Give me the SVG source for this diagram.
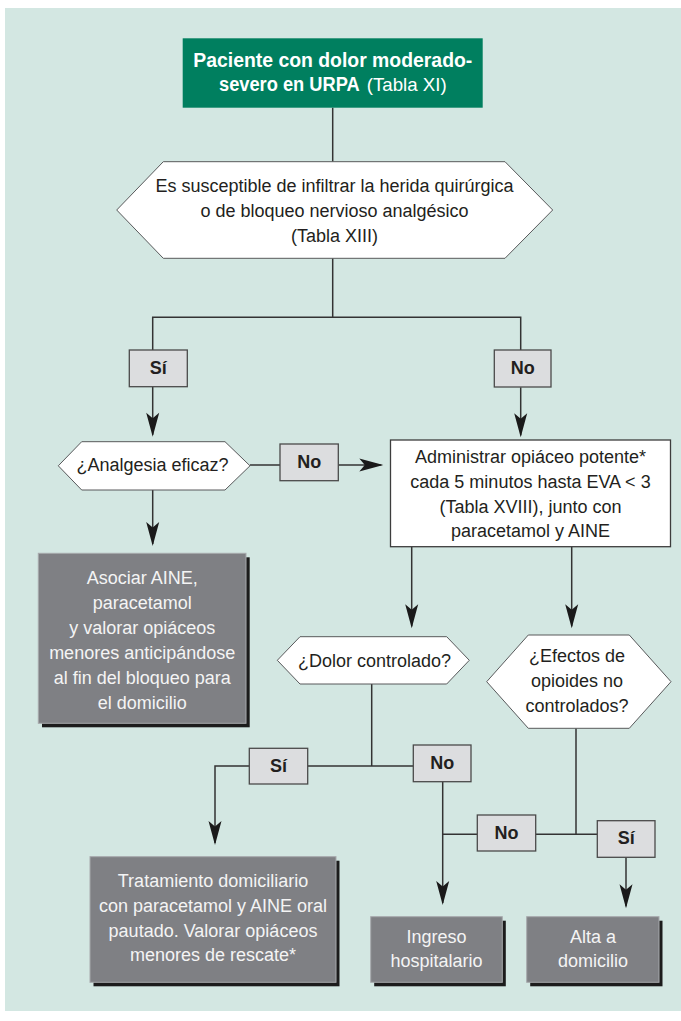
<svg xmlns="http://www.w3.org/2000/svg" width="681" height="1021" viewBox="0 0 681 1021">
  <style>
    .bg { fill: #d3e7e2; }
    .start { fill: #007f5f; }
    .hex { fill: #ffffff; stroke: #58595b; stroke-width: 1; }
    .plain { fill: #ffffff; stroke: #3d3d3d; stroke-width: 1.3; }
    .tag { fill: #dcdddf; stroke: #4a4a4a; stroke-width: 1.3; }
    .dark { fill: #7f8084; stroke: #a7a9ac; stroke-width: 1; }
    .shadow { fill: #1c1c1c; }
    .wire { fill: none; stroke: #333333; stroke-width: 1.5; }
    .t { font-family: "Liberation Sans", Arial, sans-serif; font-size: 18px; fill: #231f20; text-anchor: middle; }
    .tb { font-family: "Liberation Sans", Arial, sans-serif; font-size: 18px; font-weight: bold; fill: #231f20; text-anchor: middle; }
    .tw { font-family: "Liberation Sans", Arial, sans-serif; font-size: 18px; fill: #f4f4f4; text-anchor: middle; }
    .hb { font-family: "Liberation Sans", Arial, sans-serif; font-size: 19.4px; font-weight: bold; fill: #ffffff; }
    .hr { font-family: "Liberation Sans", Arial, sans-serif; font-size: 19px; fill: #ffffff; }
  </style>
  <defs>
    <marker id="arrow" markerUnits="userSpaceOnUse" markerWidth="26" markerHeight="16" viewBox="-25 -8 26 16" refX="-2" refY="0" orient="auto">
      <path d="M0,0 L-24,-6.5 L-18.5,0 L-24,6.5 Z" fill="#1a1a1a"/>
    </marker>
  </defs>

  <!-- panel background -->
  <rect class="bg" x="5" y="8" width="676" height="1003"/>

  <!-- connectors -->
  <g id="connectors">
    <path class="wire" d="M332.7,107.7 V161.7"/>
    <path class="wire" d="M332.7,258.3 V317.3 M152.7,350 V317.3 H520.7 V350"/>
    <path class="wire" d="M152.7,386.7 V434.7" marker-end="url(#arrow)"/>
    <path class="wire" d="M520.7,387.3 V435.3" marker-end="url(#arrow)"/>
    <path class="wire" d="M250,465 H280"/>
    <path class="wire" d="M338.3,465 H381.3" marker-end="url(#arrow)"/>
    <path class="wire" d="M152.7,490 V544" marker-end="url(#arrow)"/>
    <path class="wire" d="M411.7,546.7 V626.3" marker-end="url(#arrow)"/>
    <path class="wire" d="M571.7,546.7 V626.3" marker-end="url(#arrow)"/>
    <path class="wire" d="M371.7,684 V766"/>
    <path class="wire" d="M249.3,766 H215 V843" marker-end="url(#arrow)"/>
    <path class="wire" d="M307.7,766 H413.3"/>
    <path class="wire" d="M442.7,781.7 V903" marker-end="url(#arrow)"/>
    <path class="wire" d="M442.7,834.3 H477.3"/>
    <path class="wire" d="M535.7,834.3 H597.3"/>
    <path class="wire" d="M576,728.3 V834.3"/>
    <path class="wire" d="M626,857.3 V906.3" marker-end="url(#arrow)"/>
  </g>

  <!-- start -->
  <g id="n-start">
    <rect class="start" x="182.7" y="38.3" width="300" height="69.4"/>
    <text class="hb" x="193.3" y="66.7" textLength="279" lengthAdjust="spacingAndGlyphs">Paciente con dolor moderado-</text>
    <text class="hb" x="219" y="91" textLength="140.7" lengthAdjust="spacingAndGlyphs">severo en URPA</text>
    <text class="hr" x="366.7" y="91" textLength="80" lengthAdjust="spacingAndGlyphs">(Tabla XI)</text>
  </g>

  <!-- decision: infiltration / block -->
  <g id="n-infiltrar">
    <polygon class="hex" points="163.3,161.7 505,161.7 552.7,210 505,258.3 163.3,258.3 116.7,210"/>
    <text class="t" x="334.5" y="192.3">Es susceptible de infiltrar la herida quirúrgica</text>
    <text class="t" x="334.5" y="217.3">o de bloqueo nervioso analgésico</text>
    <text class="t" x="334.5" y="241.7">(Tabla XIII)</text>
  </g>

  <g id="l-si-1">
    <rect class="tag" x="129.3" y="350" width="58" height="36.7"/>
    <text class="tb" x="158.3" y="374">Sí</text>
  </g>
  <g id="l-no-1">
    <rect class="tag" x="494.3" y="350" width="56.7" height="37"/>
    <text class="tb" x="522.7" y="374">No</text>
  </g>

  <!-- decision: effective analgesia -->
  <g id="n-analgesia">
    <polygon class="hex" points="81.7,441.7 225,441.7 250,465.8 225,490 81.7,490 58.3,465.8"/>
    <text class="t" x="152.5" y="470.5">¿Analgesia eficaz?</text>
  </g>
  <g id="l-no-2">
    <rect class="tag" x="280" y="444" width="58.3" height="36.7"/>
    <text class="tb" x="309.2" y="468">No</text>
  </g>

  <!-- potent opioid -->
  <g id="n-opiaceo">
    <rect class="plain" x="390.5" y="440" width="280" height="106.7"/>
    <text class="t" x="530.5" y="462.7">Administrar opiáceo potente*</text>
    <text class="t" x="530.5" y="488.3">cada 5 minutos hasta EVA &lt; 3</text>
    <text class="t" x="530.5" y="513.3">(Tabla XVIII), junto con</text>
    <text class="t" x="530.5" y="537.3">paracetamol y AINE</text>
  </g>

  <!-- result: associate NSAID -->
  <g id="n-asociar">
    <rect class="shadow" x="42" y="557.3" width="207.7" height="170"/>
    <rect class="dark" x="38.3" y="553.3" width="207.7" height="170"/>
    <text class="tw" x="142.2" y="584">Asociar AINE,</text>
    <text class="tw" x="142.2" y="608.5">paracetamol</text>
    <text class="tw" x="142.2" y="633.5">y valorar opiáceos</text>
    <text class="tw" x="142.2" y="658.5">menores anticipándose</text>
    <text class="tw" x="142.2" y="683.5">al fin del bloqueo para</text>
    <text class="tw" x="142.2" y="708.5">el domicilio</text>
  </g>

  <!-- decision: pain controlled -->
  <g id="n-dolor">
    <polygon class="hex" points="300,636.7 446.7,636.7 469.3,660.3 446.7,684 300,684 277.3,660.3"/>
    <text class="t" x="374.5" y="667">¿Dolor controlado?</text>
  </g>

  <!-- decision: opioid side effects -->
  <g id="n-efectos">
    <polygon class="hex" points="528.3,635 629.3,635 671,681.7 629.3,728.3 528.3,728.3 486.7,681.7"/>
    <text class="t" x="577" y="661.7">¿Efectos de</text>
    <text class="t" x="577" y="686.7">opioides no</text>
    <text class="t" x="577" y="711.7">controlados?</text>
  </g>

  <g id="l-si-2">
    <rect class="tag" x="249.3" y="748.3" width="58.4" height="35.7"/>
    <text class="tb" x="278.5" y="771.5">Sí</text>
  </g>
  <g id="l-no-3">
    <rect class="tag" x="413.3" y="745" width="57.7" height="36.7"/>
    <text class="tb" x="442.2" y="769">No</text>
  </g>
  <g id="l-no-4">
    <rect class="tag" x="477.3" y="815" width="58.4" height="36"/>
    <text class="tb" x="506.5" y="838.5">No</text>
  </g>
  <g id="l-si-3">
    <rect class="tag" x="597.3" y="820.7" width="57.7" height="36.6"/>
    <text class="tb" x="626.2" y="844">Sí</text>
  </g>

  <!-- result: home treatment -->
  <g id="n-tratamiento">
    <rect class="shadow" x="93.5" y="860.7" width="246" height="125.6"/>
    <rect class="dark" x="90" y="856.7" width="246" height="125.6"/>
    <text class="tw" x="213" y="887.3">Tratamiento domiciliario</text>
    <text class="tw" x="213" y="912">con paracetamol y AINE oral</text>
    <text class="tw" x="213" y="936.5">pautado. Valorar opiáceos</text>
    <text class="tw" x="213" y="961">menores de rescate*</text>
  </g>

  <!-- result: admission -->
  <g id="n-ingreso">
    <rect class="shadow" x="374.2" y="920.7" width="131.6" height="65.6"/>
    <rect class="dark" x="370.7" y="916.7" width="131.6" height="65.6"/>
    <text class="tw" x="436.5" y="943.3">Ingreso</text>
    <text class="tw" x="436.5" y="967.3">hospitalario</text>
  </g>

  <!-- result: discharge -->
  <g id="n-alta">
    <rect class="shadow" x="530.2" y="920.7" width="132.3" height="65.6"/>
    <rect class="dark" x="526.7" y="916.7" width="132.3" height="65.6"/>
    <text class="tw" x="592.9" y="943.3">Alta a</text>
    <text class="tw" x="592.9" y="967.3">domicilio</text>
  </g>
</svg>
